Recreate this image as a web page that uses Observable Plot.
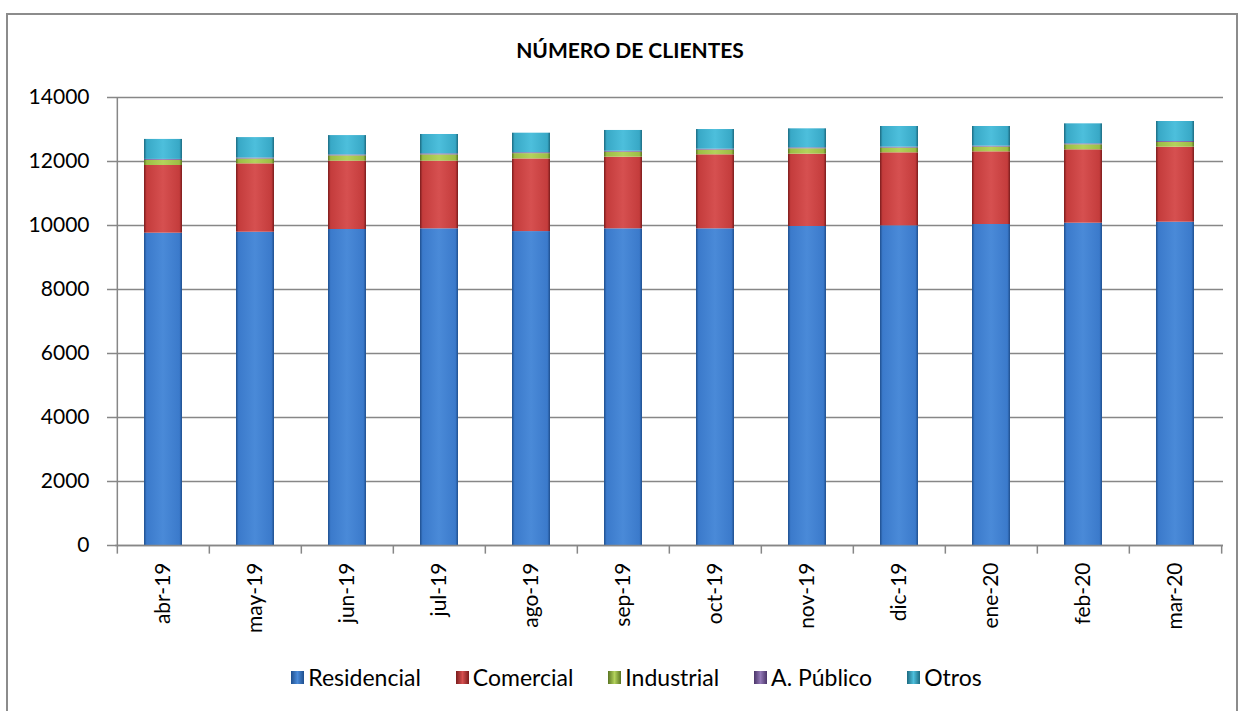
<!DOCTYPE html>
<html>
<head>
<meta charset="utf-8">
<script src="https://cdn.jsdelivr.net/npm/d3@7"></script>
<script src="https://cdn.jsdelivr.net/npm/@observablehq/plot@0.6"></script>
<style>
  html, body { margin: 0; padding: 0; background: #fff; width: 1243px; height: 711px; overflow: hidden; font-family: Lato, "Open Sans", sans-serif; }
  #frame { position: absolute; left: 6px; top: 13px; width: 1232px; height: 720px; border: 2px solid #8c8c8c; box-sizing: border-box; }
  #title { position: absolute; left: 0; width: 1260px; top: 37px; text-align: center; font-weight: bold; font-size: 21px; color: #000; }
  #chart { position: absolute; left: 0; top: 80px; }
  #legend { position: absolute; left: 0; width: 1273px; top: 663px; display: flex; justify-content: center; gap: 35px; font-size: 23px; color: #000; }
  .item { display: flex; align-items: center; gap: 4px; }
  .sw { width: 13px; height: 13px; display: inline-block; }
</style>
</head>
<body>
<svg width="0" height="0" style="position:absolute">
  <defs id="defs"></defs>
</svg>
<div id="frame"></div>
<div id="title">NÚMERO DE CLIENTES</div>
<div id="chart"></div>
<div id="legend"></div>
<script>
const months = ["abr-19","may-19","jun-19","jul-19","ago-19","sep-19","oct-19","nov-19","dic-19","ene-20","feb-20","mar-20"];
const seriesNames = ["Residencial","Comercial","Industrial","A. Público","Otros"];
const residencial = [9760, 9790, 9875, 9896, 9810, 9896, 9896, 9969, 9990, 10031, 10072, 10103];
const comercial   = [2115, 2137, 2135, 2114, 2270, 2239, 2313, 2260, 2281, 2271, 2293, 2344];
const industrial  = [160, 150, 165, 195, 165, 155, 145, 168, 147, 147, 157, 148];
const aPublico    = [30, 30, 30, 35, 30, 30, 30, 30, 30, 30, 30, 30];
const otros       = [625, 640, 605, 604, 610, 650, 615, 594, 646, 615, 625, 625];
const yTicks = [0, 2000, 4000, 6000, 8000, 10000, 12000, 14000];

const baseColors = ["#3b7acb", "#c43c3c", "#9cbd45", "#7a5c9e", "#38a8c6"];
const darkColors = ["#1f4f8e", "#7a1c1c", "#5a7522", "#4b3569", "#1c6a80"];
const lightColors = ["#4a8ad8", "#d65050", "#b3d25c", "#9278b6", "#4dbfdc"];

const defs = document.getElementById("defs");
const ns = "http://www.w3.org/2000/svg";
seriesNames.forEach((s, i) => {
  const g = document.createElementNS(ns, "linearGradient");
  g.setAttribute("id", "g" + i);
  g.setAttribute("x1", "0"); g.setAttribute("x2", "1");
  g.setAttribute("y1", "0"); g.setAttribute("y2", "0");
  [[0, darkColors[i]], [0.07, baseColors[i]], [0.5, lightColors[i]], [0.93, baseColors[i]], [1, darkColors[i]]].forEach(([o, c]) => {
    const st = document.createElementNS(ns, "stop");
    st.setAttribute("offset", o);
    st.setAttribute("stop-color", c);
    g.appendChild(st);
  });
  defs.appendChild(g);
});

const allSeries = [residencial, comercial, industrial, aPublico, otros];
const data = [];
months.forEach((m, j) => {
  seriesNames.forEach((s, i) => data.push({mes: m, serie: s, valor: allSeries[i][j]}));
});

const W = 1243, H = 560;
const mL = 115, mR = 20, mT = 17, mB = 95;
const band = (W - mL - mR) / months.length;

const chart = Plot.plot({
  width: W,
  height: H,
  marginLeft: mL,
  marginRight: mR,
  marginTop: mT,
  marginBottom: mB,
  style: {fontFamily: "Lato, 'Open Sans', sans-serif", fontSize: "21px", color: "#000", background: "transparent", overflow: "visible"},
  x: {domain: months, paddingInner: 0.59, paddingOuter: 0.295, label: null},
  y: {domain: [0, 14000], label: null},
  color: {domain: seriesNames, range: seriesNames.map((s, i) => `url(#g${i})`)},
  marks: [
    Plot.gridY(yTicks, {stroke: "#878787", strokeOpacity: 1, strokeWidth: 1.5}),
    Plot.barY(data, Plot.stackY({x: "mes", y: "valor", fill: "serie", order: null})),
    Plot.axisY({ticks: yTicks, tickSize: 8, tickPadding: 18, tickFormat: (d) => String(d), stroke: "#878787", strokeWidth: 1.5, label: null}),
    Plot.ruleY([0], {stroke: "#878787", strokeWidth: 1.5}),
    Plot.ruleX(months, {x: (d) => d, y1: 0, y2: -270, dx: -band / 2, stroke: "#878787", strokeWidth: 1.5}),
    Plot.ruleX(months.slice(-1), {x: (d) => d, y1: 0, y2: -270, dx: band / 2, stroke: "#878787", strokeWidth: 1.5}),
    Plot.ruleX(months.slice(0, 1), {x: (d) => d, y1: 0, y2: 14000, dx: -band / 2, stroke: "#878787", strokeWidth: 1.5}),
    Plot.axisX({tickSize: 0, tickPadding: 17, tickRotate: -90, label: null})
  ]
});
document.getElementById("chart").appendChild(chart);

const legend = document.getElementById("legend");
seriesNames.forEach((s, i) => {
  const it = document.createElement("div");
  it.className = "item";
  const sw = document.createElement("span");
  sw.className = "sw";
  sw.style.background = `linear-gradient(to right, ${darkColors[i]}, ${lightColors[i]} 50%, ${darkColors[i]})`;
  const t = document.createElement("span");
  t.textContent = s;
  it.appendChild(sw); it.appendChild(t);
  legend.appendChild(it);
});
</script>
</body>
</html>
